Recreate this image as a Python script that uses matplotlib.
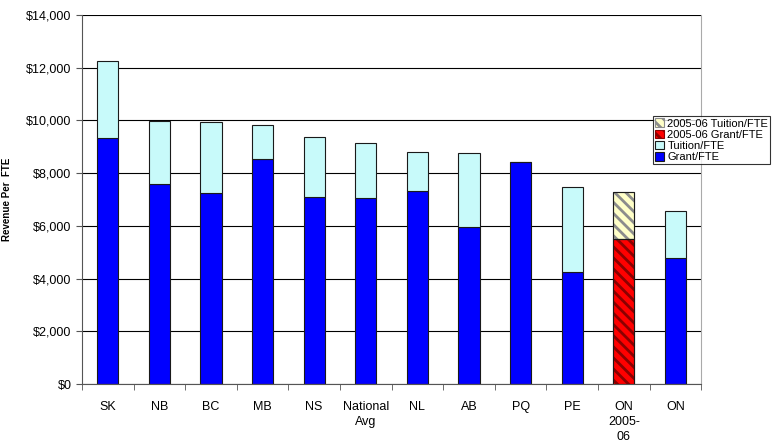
import numpy as np
import matplotlib.pyplot as plt
import matplotlib as mpl
from matplotlib.ticker import FuncFormatter

plt.rcParams['font.family'] = ['Liberation Sans', 'DejaVu Sans']
mpl.rcParams['hatch.linewidth'] = 2.0

categories = ['SK', 'NB', 'BC', 'MB', 'NS', 'National\nAvg', 'NL', 'AB', 'PQ', 'PE', 'ON\n2005-\n06', 'ON']
grant = [9320, 7590, 7245, 8540, 7110, 7060, 7335, 5945, 8415, 4235, 0, 4765]
tuition = [2930, 2400, 2700, 1280, 2270, 2080, 1465, 2835, 0, 3240, 0, 1810]
grant_0506 = [0, 0, 0, 0, 0, 0, 0, 0, 0, 0, 5490, 0]
tuition_0506 = [0, 0, 0, 0, 0, 0, 0, 0, 0, 0, 1810, 0]

fig = plt.figure(figsize=(7.8, 4.42), dpi=100)
ax = fig.add_axes([0.105, 0.131, 0.794, 0.835])

x = np.arange(len(categories))
w = 0.41
edge = '#1a1a1a'

b1 = ax.bar(x, grant, w, color='#0000ff', edgecolor=edge, linewidth=0.8, zorder=3, label='Grant/FTE')
b2 = ax.bar(x, tuition, w, bottom=grant, color='#c8fafa', edgecolor=edge, linewidth=0.8, zorder=3, label='Tuition/FTE')
b3 = ax.bar(x, grant_0506, w, color='#ff0000', edgecolor='#8b0000', hatch='\\\\\\', linewidth=0.8, zorder=3,
            label='2005-06 Grant/FTE')
b4 = ax.bar(x, tuition_0506, w, bottom=grant_0506, color='#ffffc8', edgecolor='#8c8c8c', hatch='\\\\\\', linewidth=0.8,
            zorder=3, label='2005-06 Tuition/FTE')
for b in list(b3) + list(b4):
    if b.get_height() > 0:
        ax.add_patch(plt.Rectangle(b.get_xy(), b.get_width(), b.get_height(), fill=False,
                                   edgecolor=edge, linewidth=0.8, zorder=4))

ax.set_xlim(-0.5, len(categories) - 0.5)
ax.set_ylim(0, 14000)
ax.set_yticks(np.arange(0, 14001, 2000))
ax.yaxis.set_major_formatter(FuncFormatter(lambda v, p: '${:,.0f}'.format(v)))
ax.yaxis.grid(True, color='black', linewidth=0.8, zorder=0)
ax.set_xticks(x)
ax.set_xticklabels(categories, fontsize=9, linespacing=1.35)
ax.set_xticks(np.arange(-0.5, len(categories)), minor=True)
ax.tick_params(axis='x', which='major', length=0, pad=12)
ax.tick_params(axis='x', which='minor', length=4, color='#555555')
ax.tick_params(axis='y', labelsize=9, length=4, color='#555555')
ax.set_ylabel('Revenue Per  FTE', fontsize=7, fontweight='bold', labelpad=10)

ax.spines['top'].set_visible(False)
ax.spines['right'].set_color('#aaaaaa')
ax.spines['left'].set_color('#555555')
ax.spines['bottom'].set_color('#555555')

leg = fig.legend(handles=[b4, b3, b2, b1], loc='upper left', bbox_to_anchor=(0.837, 0.737),
                 fontsize=8, frameon=True, fancybox=False, edgecolor='black', borderpad=0.2,
                 handlelength=0.8, handleheight=0.8, handletextpad=0.3, labelspacing=0.1,
                 borderaxespad=0)
leg.get_frame().set_linewidth(0.8)

fig.savefig('out.png', dpi=100)
